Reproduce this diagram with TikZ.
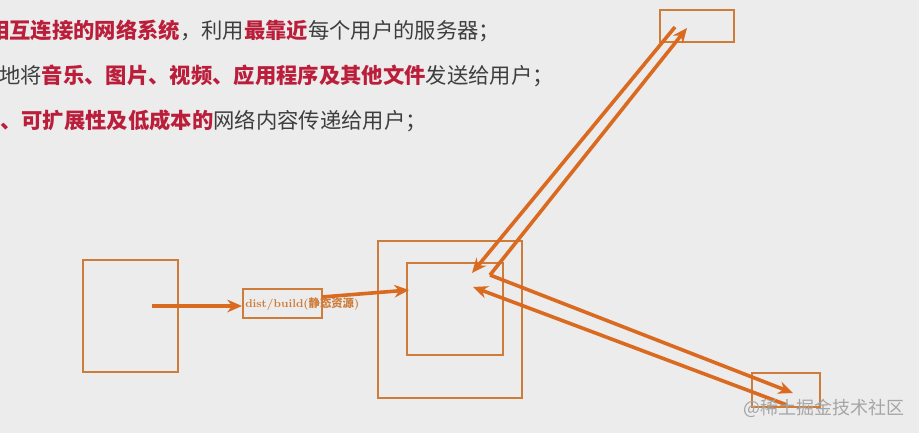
\documentclass[tikz,border=0pt]{standalone}
\usepackage{xcolor}
\usepackage{fontspec}
\usepackage{tikz}
\usetikzlibrary{arrows.meta, positioning, calc}
\newfontfamily\cjk{Noto Sans CJK SC}
\definecolor{mybg}{RGB}{236,236,236}
\definecolor{myorange}{RGB}{218,106,32}
\definecolor{mybox}{RGB}{206,124,58}
\definecolor{myred}{RGB}{186,30,58}
\definecolor{mygray}{RGB}{62,62,62}
\definecolor{mymark}{RGB}{165,165,165}
\tikzset{
  box/.style={rectangle, draw=mybox, line width=1.5pt, inner sep=0pt},
  arrow/.style={-{Stealth[length=11pt, width=9.5pt]}, line width=2.7pt, color=myorange},
  textline/.style={anchor=west, inner sep=0pt, font=\cjk\fontsize{16pt}{18pt}\selectfont, color=mygray}
}
\newcommand{\hl}[1]{{\bfseries\color{myred}#1}}
\begin{document}
\begin{tikzpicture}[x=0.75pt, y=-0.75pt]
  \clip (0,0) rectangle (919,433);
  \fill[mybg] (0,0) rectangle (919,433);

  % text lines, cut at the left edge
  \node[textline] (l1) at (-12,31) {\hl{相互连接的网络系统}，利用\hl{最靠近}每个用户的服务器；};
  \node[textline] (l2) at (-1,76) {地将\hl{音乐、图片、视频、应用程序及其他文件}发送给用户；};
  \node[textline] (l3) at (0,121) {\hl{、可扩展性及低成本的}网络内容传递给用户；};

  % boxes
  \node[box, minimum width=71.25pt, minimum height=84pt] (src) at (130.5,316) {};
  \node[box, minimum width=59.25pt, minimum height=21.75pt] (dist) at (282.5,303.5) {};
  \node[anchor=west, inner sep=0pt, font=\fontsize{8.5pt}{9pt}\selectfont\bfseries, color=mybox] (distlbl) at (245,304) {dist/build({\cjk 静态资源})};
  \node[box, minimum width=108pt, minimum height=117.75pt] (outer) at (450,319.5) {};
  \node[box, minimum width=72pt, minimum height=69pt] (inner) at (455,309) {};
  \node[box, minimum width=55.5pt, minimum height=24pt] (top) at (697,26) {};
  \node[box, minimum width=51pt, minimum height=25.5pt] (user) at (786,390) {};

  % end points inside the boxes
  \coordinate (srcout) at (152,306);
  \coordinate (distout) at (322,297);
  \coordinate (innerin) at (409,290);
  \coordinate (hub) at (490,275);
  \coordinate (hubin1) at (472,273);
  \coordinate (hubin2) at (473,287);
  \coordinate (topin) at (687,28);
  \coordinate (topout) at (675,27);
  \coordinate (userin) at (793,393);
  \coordinate (userout) at (787,405);

  \draw[arrow] (srcout) -- (srcout -| dist.west);
  \draw[arrow] (distout) -- (innerin);
  \draw[arrow] (topout) -- (hubin1);
  \draw[arrow] (hub) -- (topin);
  \draw[arrow] (hub) -- (userin);
  \draw[arrow] (userout) -- (hubin2);

  \node[anchor=west, inner sep=0pt, font=\cjk\fontsize{13.5pt}{15pt}\selectfont, color=mymark] (mark) at (743,408) {@稀土掘金技术社区};
\end{tikzpicture}
\end{document}
